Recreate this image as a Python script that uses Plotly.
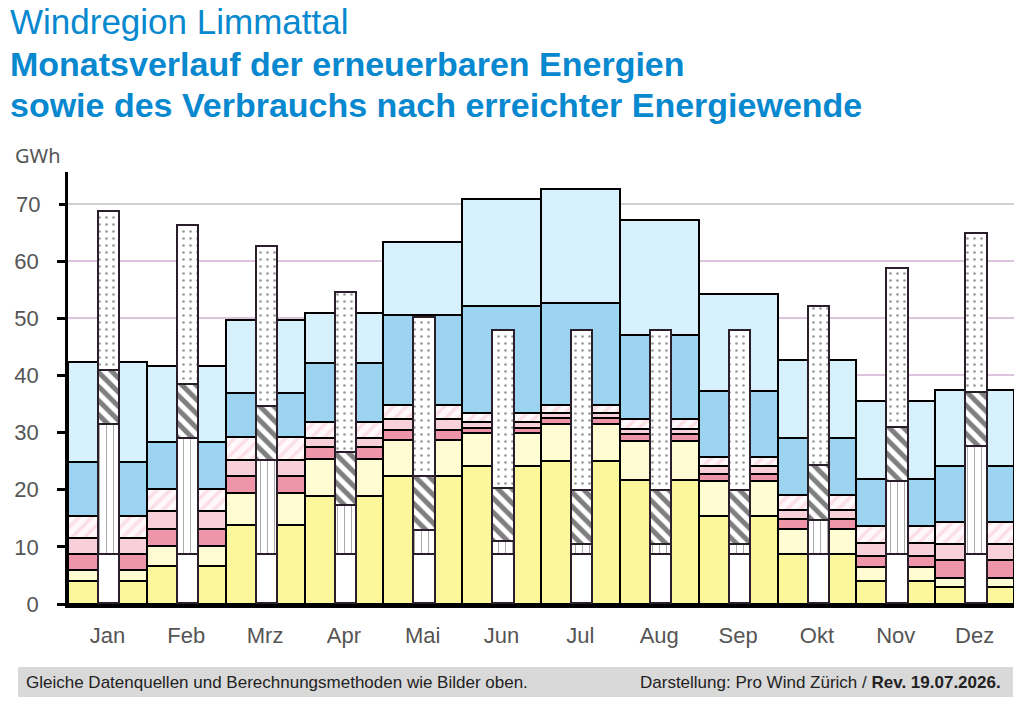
import plotly.graph_objects as go

# Monate
months = ["Jan", "Feb", "Mrz", "Apr", "Mai", "Jun", "Jul", "Aug", "Sep", "Okt", "Nov", "Dez"]

# Produktion erneuerbare Energien (GWh je Monat, gestapelt von unten)
prod_sonne_1 = [4.0, 6.7, 13.9, 18.9, 22.4, 24.2, 25.0, 21.7, 15.4, 8.8, 4.1, 3.0]
prod_sonne_2 = [2.0, 3.5, 5.6, 6.5, 6.3, 5.8, 6.5, 6.9, 6.2, 4.3, 2.4, 1.6]
prod_bio_1 = [2.8, 2.9, 2.9, 2.0, 1.8, 0.8, 1.0, 1.1, 1.1, 1.8, 1.9, 3.1]
prod_bio_2 = [2.7, 3.1, 2.8, 1.6, 1.9, 1.1, 0.9, 0.9, 1.5, 1.6, 2.2, 2.8]
prod_bio_3 = [3.9, 3.9, 4.0, 2.8, 2.4, 1.6, 1.5, 1.7, 1.5, 2.6, 3.1, 3.8]
prod_wind_1 = [9.4, 8.2, 7.8, 10.4, 15.8, 18.6, 17.7, 14.8, 11.5, 9.9, 8.2, 9.8]
prod_wind_2 = [17.6, 13.3, 12.7, 8.8, 12.8, 18.7, 20.0, 20.1, 17.0, 13.7, 13.6, 13.3]

# Verbrauch (schmale Säule in der Mitte)
verb_basis = [8.5, 8.5, 8.5, 8.5, 8.5, 8.5, 8.5, 8.5, 8.5, 8.5, 8.5, 8.5]
verb_waerme = [22.9, 20.4, 16.6, 8.6, 4.3, 2.3, 1.9, 1.9, 1.9, 6.1, 12.9, 18.9]
verb_mobil = [9.3, 9.5, 9.4, 9.4, 9.5, 9.3, 9.4, 9.4, 9.4, 9.5, 9.4, 9.5]
verb_strom = [27.9, 27.8, 27.9, 27.9, 27.7, 27.7, 27.9, 27.9, 27.9, 27.8, 27.8, 27.9]

y_ticks = [0, 10, 20, 30, 40, 50, 60]
y_top_tick = [70]

x = list(range(len(months)))

fig = go.Figure()

wide = [
    ("Sonne 1", prod_sonne_1, "#fdf79b", None),
    ("Sonne 2", prod_sonne_2, "#fffbd2", None),
    ("Bio 1", prod_bio_1, "#ef95aa", None),
    ("Bio 2", prod_bio_2, "#f7d0da", None),
    ("Bio 3", prod_bio_3, "#ffffff", dict(shape="/", fgcolor="#f8c6d3", bgcolor="#fff8fa", size=9, solidity=0.4)),
    ("Wind 1", prod_wind_1, "#9bd3f1", None),
    ("Wind 2", prod_wind_2, "#d6f0fc", None),
]
for name, vals, col, pat in wide:
    marker = dict(color=col, line=dict(color="black", width=2.5))
    if pat:
        marker["pattern"] = pat
    fig.add_trace(go.Bar(x=x, y=vals, name=name, width=1.0, marker=marker, xaxis="x", yaxis="y"))

narrow = [
    ("Basis", verb_basis, None),
    ("Wärme", verb_waerme, dict(shape="|", fgcolor="#555555", bgcolor="white", size=7, solidity=0.15)),
    ("Mobilität", verb_mobil, dict(shape="\\", fgcolor="black", bgcolor="white", size=10, solidity=0.5)),
    ("Strom", verb_strom, dict(shape=".", fgcolor="#333333", bgcolor="white", size=7, solidity=0.12)),
]
for name, vals, pat in narrow:
    marker = dict(color="white", line=dict(color="#2b1e2b", width=1.8))
    if pat:
        marker["pattern"] = pat
    fig.add_trace(go.Bar(x=x, y=vals, name=name, width=0.27, offset=-0.105,
                         marker=marker, xaxis="x2", yaxis="y2"))

tick_font = dict(family="Liberation Sans Narrow, Liberation Sans, sans-serif", size=22, color="#555555")
yax_common = dict(
    range=[0, 75.6], ticks="outside", ticklen=8, tickwidth=2.5, tickcolor="black",
    showgrid=True, gridwidth=2.2, zeroline=False, layer="above traces",
    tickfont=tick_font, ticklabelstandoff=14,
)

fig.update_layout(
    width=1024, height=705,
    barmode="stack", bargap=0,
    showlegend=False,
    plot_bgcolor="white", paper_bgcolor="white",
    margin=dict(l=68, r=10, t=172, b=101),
    xaxis=dict(
        range=[-0.5, 11.5], tickvals=x, ticktext=months,
        showline=True, linecolor="black", linewidth=4,
        ticks="", showgrid=False, zeroline=False,
        tickfont=tick_font, ticklabelstandoff=9,
    ),
    xaxis2=dict(range=[-0.5, 11.5], overlaying="x", visible=False),
    yaxis=dict(tickvals=y_ticks, gridcolor="#dcc3de",
               showline=True, linecolor="black", linewidth=2.5, **yax_common),
    yaxis2=dict(tickvals=y_top_tick, gridcolor="#d0d0d0", overlaying="y", side="left",
                showline=False, **yax_common),
)

# Titelzeilen
title_font = "Liberation Sans, Arial, sans-serif"
title_blue = "#0788cf"
title_x = -0.0635
fig.add_annotation(text="Windregion Limmattal", xref="paper", yref="paper", x=title_x, y=1.397,
                   xanchor="left", yanchor="top", showarrow=False,
                   font=dict(family=title_font, size=35, color=title_blue))
fig.add_annotation(text="<b>Monatsverlauf der erneuerbaren Energien</b>", xref="paper", yref="paper",
                   x=title_x, y=1.2975, xanchor="left", yanchor="top", showarrow=False,
                   font=dict(family=title_font, size=34, color=title_blue))
fig.add_annotation(text="<b>sowie des Verbrauchs nach erreichter Energiewende</b>", xref="paper", yref="paper",
                   x=title_x, y=1.2026, xanchor="left", yanchor="top", showarrow=False,
                   font=dict(family=title_font, size=34, color=title_blue))

# GWh Einheit
fig.add_annotation(text="GWh", xref="paper", yref="paper", x=-0.058, y=1.039,
                   xanchor="left", yanchor="middle", showarrow=False,
                   font=dict(family="Noto Sans, sans-serif", size=20, color="#555555"))

# Fusszeile
fig.add_shape(type="rect", xref="paper", yref="paper", x0=-0.0529, x1=0.9989, y0=-0.2153, y1=-0.1458,
              fillcolor="#d9d9d9", line=dict(width=0), layer="below")
foot_font = dict(family="Liberation Sans Narrow, Liberation Sans, sans-serif", size=17, color="#222222")
fig.add_annotation(text="Gleiche Datenquellen und Berechnungsmethoden wie Bilder oben.",
                   xref="paper", yref="paper", x=-0.046, y=-0.1806, xanchor="left", yanchor="middle",
                   showarrow=False, font=foot_font)
fig.add_annotation(text="Darstellung: Pro Wind Zürich / <b>Rev. 19.07.2026.</b>",
                   xref="paper", yref="paper", x=0.988, y=-0.1806, xanchor="right", yanchor="middle",
                   showarrow=False, font=foot_font)

# Seitenrand des Browsers entfernen, damit das Bild bei 0,0 beginnt
fig.write_html("out.html", config={"displayModeBar": False},
               post_script="document.body.style.margin='0px';")
